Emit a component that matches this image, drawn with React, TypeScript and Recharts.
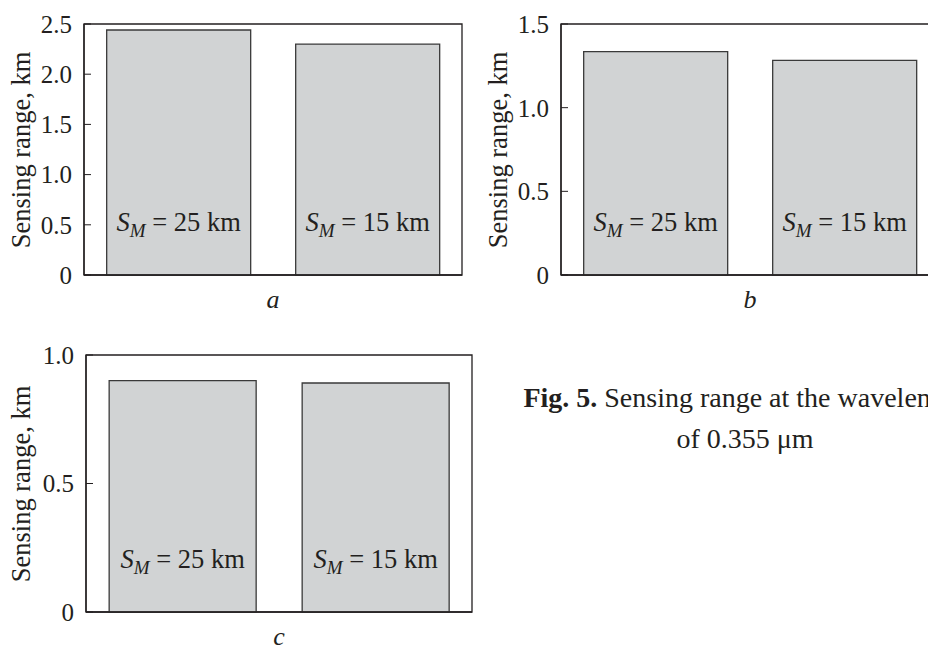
import { BarChart, Bar, XAxis, YAxis, ReferenceArea, LabelList } from 'recharts';

const maxRanges = ['25', '15'];
const rangeA = [2.44, 2.3];
const rangeB = [1.335, 1.283];
const rangeC = [0.9, 0.891];
const ticksA = [0, 0.5, 1.0, 1.5, 2.0, 2.5];
const ticksB = [0, 0.5, 1.0, 1.5];
const ticksC = [0, 0.5, 1.0];

const FONT = '"Liberation Serif", "Times New Roman", serif';
const INK = '#231f20';

const makeData = (vals: number[]) => maxRanges.map((m, i) => ({ sm: m, range: vals[i] }));

const fmt = (v: number) => (v === 0 ? '0' : v.toFixed(1));

// "S_M = 25 km" written near the bottom of each bar
const SmLabel = (props: any) => {
  const vb = props.viewBox ?? props;
  const { x, y, width, height } = vb;
  const cx = x + width / 2;
  const by = y + height - 44;
  return (
    <text x={cx} y={by} textAnchor="middle" fontFamily={FONT} fontSize={26.5} fill={INK}>
      <tspan fontStyle="italic">S</tspan>
      <tspan fontStyle="italic" fontSize={19} dy={6}>M</tspan>
      <tspan dy={-6}>{` = ${props.value} km`}</tspan>
    </text>
  );
};

type PanelProps = {
  left: number;
  top: number;
  width: number;
  height: number;
  margin: { top: number; right: number; bottom: number; left: number };
  values: number[];
  ticks: number[];
  letter: string;
};

function Panel({ left, top, width, height, margin, values, ticks, letter }: PanelProps) {
  const max = ticks[ticks.length - 1];
  const plotLeft = left + margin.left + 60;
  const plotRight = left + width - margin.right;
  const plotTop = top + margin.top;
  const plotBottom = top + height - margin.bottom - 40;
  return (
    <>
      <div style={{ position: 'absolute', left, top }}>
        <BarChart width={width} height={height} data={makeData(values)} margin={margin} barCategoryGap="12%">
          <XAxis
            dataKey="sm"
            tick={false}
            tickLine={false}
            height={40}
            axisLine={{ stroke: INK, strokeWidth: 1.3 }}
          />
          <YAxis
            domain={[0, max]}
            ticks={ticks}
            interval={0}
            tickFormatter={fmt}
            width={60}
            tickSize={-7}
            tickMargin={19}
            axisLine={{ stroke: INK, strokeWidth: 1.3 }}
            tickLine={{ stroke: INK, strokeWidth: 1 }}
            tick={{ fill: INK, fontSize: 25, fontFamily: FONT }}
          />
          <ReferenceArea y1={0} y2={max} fill="none" stroke={INK} strokeWidth={1.3} ifOverflow="visible" />
          <Bar dataKey="range" fill="#d1d3d4" stroke="#3a3a3a" strokeWidth={1.3} isAnimationActive={false}>
            <LabelList dataKey="sm" content={SmLabel} />
          </Bar>
        </BarChart>
      </div>
      <div
        style={{
          position: 'absolute',
          left: left + 21,
          top: (plotTop + plotBottom) / 2,
          transform: 'translate(-50%, -50%) rotate(-90deg)',
          whiteSpace: 'nowrap',
          fontFamily: FONT,
          fontSize: 26.5,
          lineHeight: '28px',
          color: INK,
        }}
      >
        Sensing range, km
      </div>
      <div
        style={{
          position: 'absolute',
          left: (plotLeft + plotRight) / 2 - 20,
          width: 40,
          top: plotBottom + 16,
          textAlign: 'center',
          fontFamily: FONT,
          fontStyle: 'italic',
          fontSize: 26,
          lineHeight: '17px',
          color: INK,
        }}
      >
        {letter}
      </div>
    </>
  );
}

export default function App() {
  return (
    <div
      style={{
        position: 'absolute',
        left: 0,
        top: 0,
        width: 928,
        height: 648,
        overflow: 'hidden',
        background: '#fff',
      }}
    >
      <Panel
        left={0}
        top={0}
        width={480}
        height={320}
        margin={{ top: 24, right: 18, bottom: 5, left: 24 }}
        values={rangeA}
        ticks={ticksA}
        letter="a"
      />
      <Panel
        left={477}
        top={0}
        width={480}
        height={320}
        margin={{ top: 24, right: 18, bottom: 5, left: 24 }}
        values={rangeB}
        ticks={ticksB}
        letter="b"
      />
      <Panel
        left={0}
        top={330}
        width={490}
        height={330}
        margin={{ top: 25, right: 18, bottom: 8, left: 26 }}
        values={rangeC}
        ticks={ticksC}
        letter="c"
      />
      <div
        style={{
          position: 'absolute',
          left: 345,
          width: 800,
          top: 377,
          textAlign: 'center',
          whiteSpace: 'nowrap',
          fontFamily: FONT,
          fontSize: 28,
          lineHeight: '41px',
          color: INK,
        }}
      >
        <b>Fig. 5.</b> Sensing range at the wavelength
        <br />
        of 0.355 μm
      </div>
    </div>
  );
}
